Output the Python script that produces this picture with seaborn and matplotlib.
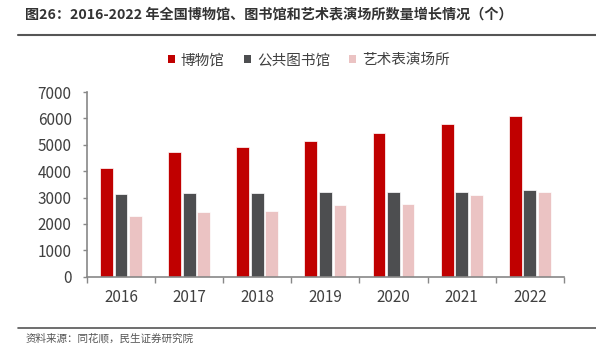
import pandas as pd
import seaborn as sns
import matplotlib.pyplot as plt
from matplotlib.patches import Patch
from matplotlib.lines import Line2D

# values
years = ["2016", "2017", "2018", "2019", "2020", "2021", "2022"]
museums = [4109, 4721, 4918, 5132, 5452, 5772, 6091]
libraries = [3153, 3166, 3176, 3196, 3212, 3215, 3303]
venues = [2285, 2455, 2478, 2716, 2770, 3100, 3200]
series = ["博物馆", "公共图书馆", "艺术表演场所"]
colors = ["#C00000", "#4D4E50", "#EBC3C3"]

df = pd.DataFrame({
    "year": years * 3,
    "series": [series[0]] * 7 + [series[1]] * 7 + [series[2]] * 7,
    "value": museums + libraries + venues,
})

sns.set_theme(style="white")
plt.rcParams["font.family"] = ["Noto Sans CJK SC", "DejaVu Sans"]

fig = plt.figure(figsize=(5.96, 3.58), dpi=100)
ax = fig.add_axes([0.146, 0.227, 0.8, 0.516])

sns.barplot(data=df, x="year", y="value", hue="series", hue_order=series,
            palette=colors, saturation=1, width=0.64, gap=0.12, ax=ax,
            legend=False, edgecolor="white", linewidth=0.5)

ax.set_ylim(0, 7000)
ax.set_xlim(-0.5, 6.5)
ax.set_yticks(range(0, 7001, 1000))
ax.set_xlabel("")
ax.set_ylabel("")

# ticks between groups, labels at group centres
ax.set_xticks([i - 0.5 for i in range(8)])
ax.set_xticklabels([])
ax.set_xticks(range(7), minor=True)
ax.set_xticklabels(years, minor=True)
ax.tick_params(axis="x", which="major", direction="out", length=4, width=1,
               color="#888888", bottom=True)
ax.tick_params(axis="x", which="minor", length=0, pad=9, labelsize=11,
               labelcolor="#404040")
ax.tick_params(axis="y", direction="out", length=3, width=1, color="#888888",
               left=True, labelsize=11, labelcolor="#404040", pad=8)

for s in ["top", "right"]:
    ax.spines[s].set_visible(False)
for s in ["left", "bottom"]:
    ax.spines[s].set_color("#888888")
    ax.spines[s].set_linewidth(1.2)

handles = [Patch(facecolor=c, edgecolor="none") for c in colors]
fig.legend(handles, series, loc="center", bbox_to_anchor=(0.518, 0.832), ncol=3,
           frameon=False, fontsize=10.5, handlelength=0.5, handleheight=0.5,
           handletextpad=0.4, columnspacing=1.3, labelcolor="#404040")

fig.text(0.042, 0.959, "图26：2016-2022 年全国博物馆、图书馆和艺术表演场所数量增长情况（个）",
         fontsize=10.2, fontweight="bold", color="#333333", va="center")
fig.add_artist(Line2D([0.03, 1.0], [0.902, 0.902], color="#555555", lw=1.5))
fig.add_artist(Line2D([0.03, 1.0], [0.084, 0.084], color="#555555", lw=1.2))
fig.text(0.042, 0.054, "资料来源：同花顺，民生证券研究院", fontsize=7.6,
         color="#555555", va="center")

fig.savefig("out.png", dpi=100)
